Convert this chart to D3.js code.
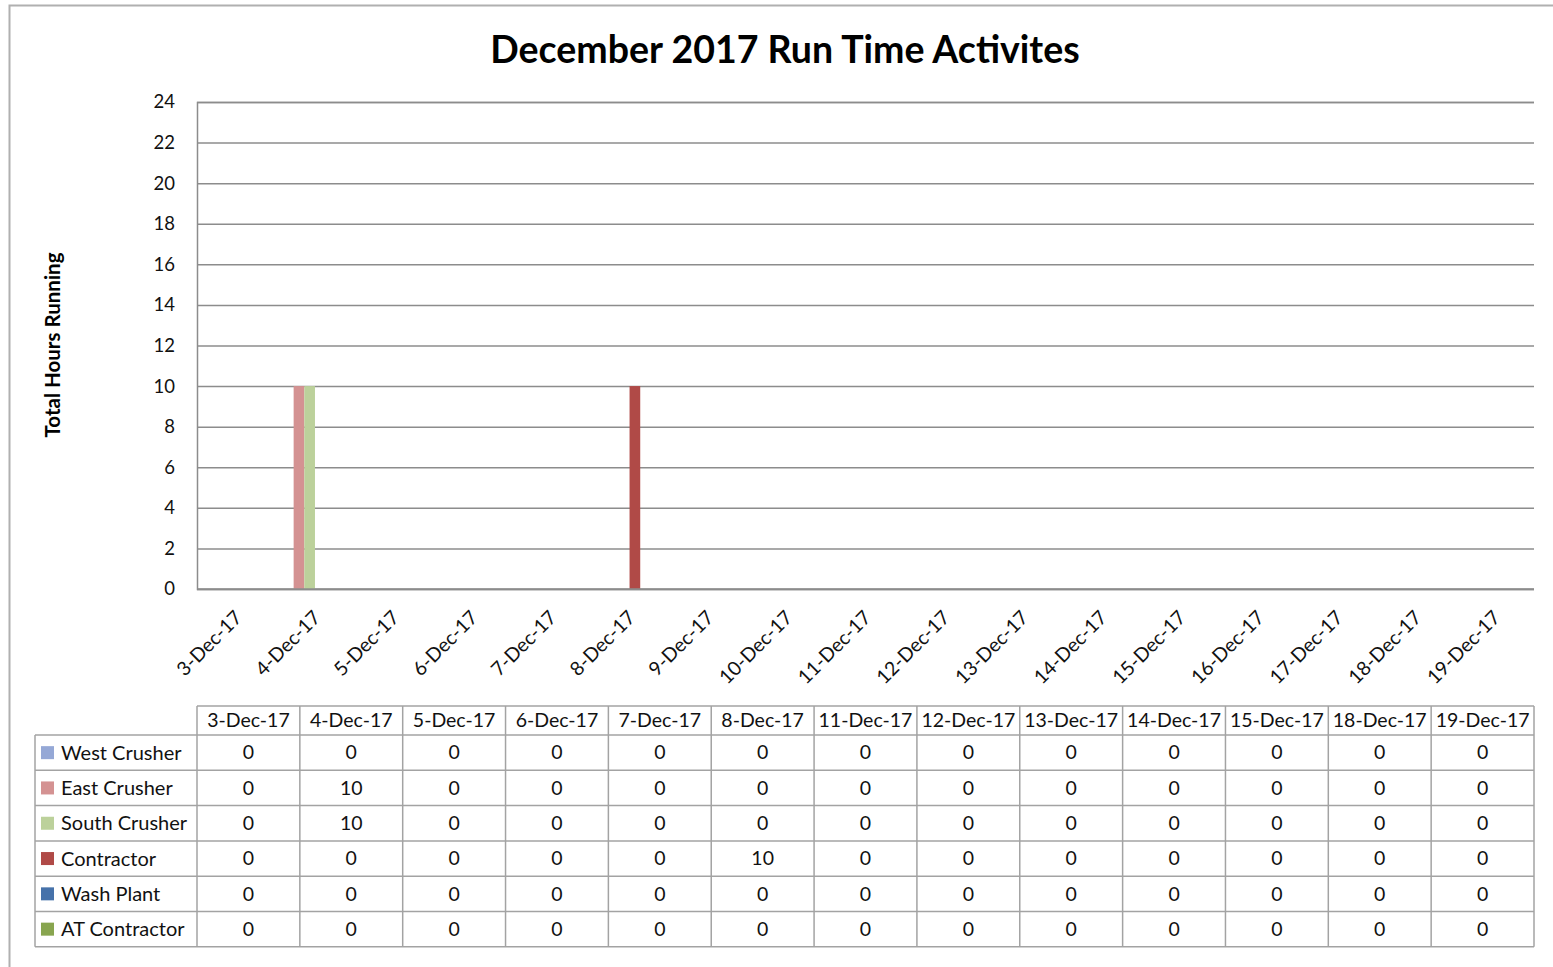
<!DOCTYPE html>
<html>
<head>
<meta charset="utf-8">
<script src="https://cdn.jsdelivr.net/npm/d3@7"></script>
<style>
  body { margin: 0; background: #fff; }
  svg { display: block; font-family: Lato, "Open Sans", sans-serif; }
</style>
</head>
<body>
<div id="chart"></div>
<script>
// axis categories shown under the plot
var axisDates = ["3-Dec-17","4-Dec-17","5-Dec-17","6-Dec-17","7-Dec-17","8-Dec-17","9-Dec-17",
    "10-Dec-17","11-Dec-17","12-Dec-17","13-Dec-17","14-Dec-17","15-Dec-17","16-Dec-17",
    "17-Dec-17","18-Dec-17","19-Dec-17"];
// columns of the data table
var tableDates = ["3-Dec-17","4-Dec-17","5-Dec-17","6-Dec-17","7-Dec-17","8-Dec-17",
    "11-Dec-17","12-Dec-17","13-Dec-17","14-Dec-17","15-Dec-17","18-Dec-17","19-Dec-17"];
var seriesNames = ["West Crusher","East Crusher","South Crusher","Contractor","Wash Plant","AT Contractor"];
var westCrusher  = [0,0,0,0,0,0,0,0,0,0,0,0,0];
var eastCrusher  = [0,10,0,0,0,0,0,0,0,0,0,0,0];
var southCrusher = [0,10,0,0,0,0,0,0,0,0,0,0,0];
var contractor   = [0,0,0,0,0,10,0,0,0,0,0,0,0];
var washPlant    = [0,0,0,0,0,0,0,0,0,0,0,0,0];
var atContractor = [0,0,0,0,0,0,0,0,0,0,0,0,0];
var yTicks = [0,2,4,6,8,10,12,14,16,18,20,22,24];

var seriesValues = [westCrusher, eastCrusher, southCrusher, contractor, washPlant, atContractor];
var colors = ["#95a8d6","#d49292","#bcd19b","#b04a47","#4672aa","#88a54f"];

var W = 1553, H = 967;
var plot = {left:197, right:1534, top:102, bottom:589};
var tbl = {left:35, col0:197, right:1534, top:706, head:29, row:35.3};
var gridColor = "#8c8c8c";
var tableColor = "#a3a3a3";
var fs = 19.5;

var svg = d3.select("#chart").append("svg")
    .attr("width", W).attr("height", H);

// outer chart border
svg.append("rect")
    .attr("x", 9.5).attr("y", 5.5)
    .attr("width", W + 20).attr("height", H + 20)
    .attr("fill", "none").attr("stroke", "#b0b0b0").attr("stroke-width", 2);

svg.append("text")
    .attr("x", 785).attr("y", 63)
    .attr("text-anchor", "middle")
    .attr("font-weight", "bold").attr("font-size", 37.5)
    .attr("fill", "#000")
    .text("December 2017 Run Time Activites");

var y = d3.scaleLinear().domain([0, 24]).range([plot.bottom, plot.top]);
var x0 = d3.scaleBand().domain(axisDates).range([plot.left, plot.right]).padding(0);
var bw = x0.bandwidth();
var gap = bw * 0.093;
var x1 = d3.scaleBand().domain(seriesNames).range([gap, bw - gap]).padding(0);

// gridlines
var yAxis = d3.axisLeft(y).tickValues(yTicks).tickSize(-(plot.right - plot.left)).tickFormat(d3.format("d"));
var gy = svg.append("g").attr("transform", "translate(" + plot.left + ",0)").call(yAxis);
gy.select(".domain").attr("stroke", gridColor).attr("stroke-width", 1.5);
gy.selectAll(".tick line").attr("stroke", gridColor).attr("stroke-width", 1.5);
gy.selectAll(".tick text")
    .attr("x", -22).attr("font-size", 18.5).attr("fill", "#111")
    .attr("font-family", "Lato, sans-serif");

svg.append("text")
    .attr("transform", "translate(60,345) rotate(-90)")
    .attr("text-anchor", "middle")
    .attr("font-weight", "bold").attr("font-size", 20.5)
    .text("Total Hours Running");

// bars
var barData = [];
seriesNames.forEach(function (s, si) {
    axisDates.forEach(function (d) {
        var k = tableDates.indexOf(d);
        if (k >= 0) barData.push({series: s, date: d, value: seriesValues[si][k], color: colors[si]});
    });
});
svg.append("g").selectAll("rect").data(barData).join("rect")
    .attr("x", function (d) { return x0(d.date) + x1(d.series); })
    .attr("width", x1.bandwidth())
    .attr("y", function (d) { return y(d.value); })
    .attr("height", function (d) { return plot.bottom - y(d.value); })
    .attr("fill", function (d) { return d.color; });

// x axis line + rotated labels
svg.append("line")
    .attr("x1", plot.left).attr("x2", plot.right)
    .attr("y1", plot.bottom).attr("y2", plot.bottom)
    .attr("stroke", gridColor).attr("stroke-width", 1.5);
svg.append("g").selectAll("text").data(axisDates).join("text")
    .attr("transform", function (d) {
        return "translate(" + (x0(d) + bw / 2 + 2) + "," + (plot.bottom + 25) + ") rotate(-45)";
    })
    .attr("text-anchor", "end")
    .attr("dy", "0.35em")
    .attr("font-size", fs).attr("fill", "#111")
    .text(function (d) { return d; });

// data table
var tx = d3.scaleBand().domain(tableDates).range([tbl.col0, tbl.right]);
var rowY = function (i) { return tbl.top + tbl.head + i * tbl.row; };
var tableBottom = rowY(seriesNames.length);
var gt = svg.append("g").attr("stroke", tableColor).attr("stroke-width", 1.5);
// horizontal lines
gt.append("line").attr("x1", tbl.col0).attr("x2", tbl.right).attr("y1", tbl.top).attr("y2", tbl.top);
d3.range(seriesNames.length + 1).forEach(function (i) {
    gt.append("line").attr("x1", tbl.left).attr("x2", tbl.right).attr("y1", rowY(i)).attr("y2", rowY(i));
});
// vertical lines
gt.append("line").attr("x1", tbl.left).attr("x2", tbl.left).attr("y1", rowY(0)).attr("y2", tableBottom);
tableDates.forEach(function (d) {
    gt.append("line").attr("x1", tx(d)).attr("x2", tx(d)).attr("y1", tbl.top).attr("y2", tableBottom);
});
gt.append("line").attr("x1", tbl.right).attr("x2", tbl.right).attr("y1", tbl.top).attr("y2", tableBottom);

svg.append("g").selectAll("text").data(tableDates).join("text")
    .attr("x", function (d) { return tx(d) + tx.bandwidth() / 2; })
    .attr("y", tbl.top + tbl.head / 2)
    .attr("dy", "0.35em")
    .attr("text-anchor", "middle")
    .attr("font-size", fs).attr("fill", "#111")
    .text(function (d) { return d; });

seriesNames.forEach(function (s, si) {
    var cy = rowY(si) + tbl.row / 2;
    svg.append("rect")
        .attr("x", 41).attr("y", cy - 6.5).attr("width", 13).attr("height", 13)
        .attr("fill", colors[si]);
    svg.append("text")
        .attr("x", 61).attr("y", cy).attr("dy", "0.35em")
        .attr("font-size", 20).attr("fill", "#111")
        .text(s);
    svg.append("g").selectAll("text").data(seriesValues[si]).join("text")
        .attr("x", function (v, k) { return tx(tableDates[k]) + tx.bandwidth() / 2; })
        .attr("y", cy).attr("dy", "0.35em")
        .attr("text-anchor", "middle")
        .attr("font-size", fs).attr("fill", "#111")
        .text(function (v) { return v; });
});
</script>
</body>
</html>
